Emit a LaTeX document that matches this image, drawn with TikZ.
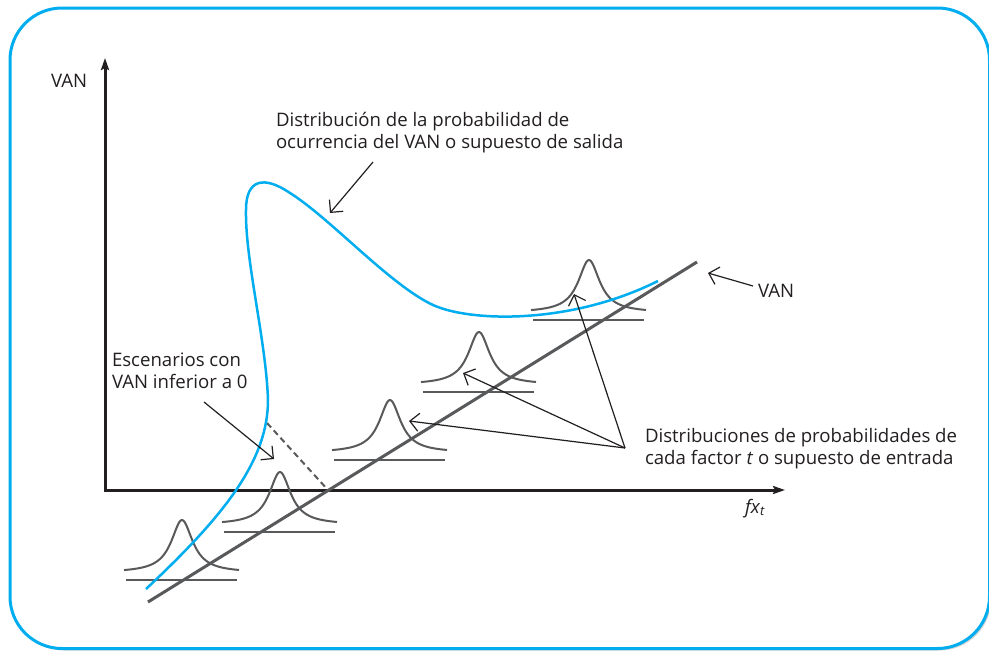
\documentclass[tikz,border=0pt]{standalone}
\usepackage{fontspec}
\setmainfont{Open Sans}
\usetikzlibrary{arrows.meta,shadows}
\definecolor{RiskCyan}{RGB}{0,174,239}
\definecolor{RiskInk}{RGB}{35,31,32}
\definecolor{RiskGray}{RGB}{88,89,91}
\tikzset{
    risk/diagram/.style={
        font=\fontsize{18.6}{21.5}\selectfont,
        text=RiskInk,
        line join=round
    },
    risk/frame/.style={
        draw=RiskCyan, line width=3pt, fill=white, rounded corners=52pt,
        drop shadow={shadow xshift=2pt, shadow yshift=-2pt, opacity=0.35}
    },
    risk/axis/.style={
        draw=RiskInk, line width=3pt, line join=miter,
        {Stealth[length=12pt, width=8pt, inset=2pt]}-{Stealth[length=12pt, width=8pt, inset=2pt]}
    },
    risk/van/.style={draw=RiskGray, line width=3pt},
    risk/bell/.style={draw=RiskGray, line width=2pt},
    risk/base/.style={draw=RiskGray, line width=2.5pt},
    risk/negative/.style={
        draw=RiskGray, line width=2pt, dash pattern=on 6pt off 4pt
    },
    risk/output/.style={draw=RiskCyan, line width=2.5pt},
    risk/pointer/.style={
        draw=RiskInk, line width=1.2pt,
        -{Straight Barb[length=9pt, width=18pt]}
    },
    risk/label/.style={inner sep=0pt, outer sep=0pt, align=left}
}
\begin{document}
\begin{tikzpicture}[risk/diagram, x=1pt, y=-1pt]
    \useasboundingbox (0,0) rectangle (989,651);
    \path[risk/frame] (10,8) rectangle (989.5,648.5);
    % axes
    \coordinate (origin) at (105,490);
    \coordinate (ytop) at (105,58);
    \coordinate (xend) at (785,490);
    \draw[risk/axis] (ytop) -- (origin) -- (xend);
    % input distributions
    \foreach \cx/\ty in {182/570,280/522,390/450,479/382,589/310} {
        \draw[risk/bell] plot[domain=-58:57, samples=80, smooth]
            ({\cx+\x}, {\ty+2.56-52.6/(1+(\x/13)^2)});
        \draw[risk/base] (\cx-56,\ty+10) -- (\cx+55,\ty+10);
    }
    % VAN line
    \coordinate (vanlow) at (148,602);
    \coordinate (vanhigh) at (697,262);
    \draw[risk/van] (vanlow) -- (vanhigh);
    \coordinate (negtop) at (267,423);
    \coordinate (negfoot) at (328,490);
    \draw[risk/negative] (negtop) -- (negfoot);
    % output distribution
    \draw[risk/output]
        (146,589) .. controls (225,515) and (268,460) .. (268,400)
        .. controls (266,340) and (245,260) .. (246,210)
        .. controls (246,178) and (265,176) .. (290,193)
        .. controls (330,218) and (390,285) .. (433,305)
        .. controls (470,322) and (570,325) .. (658,281);
    % labels
    \node[risk/label, anchor=base west] (vanaxis) at (51,87) {VAN};
    \node[risk/label, anchor=base west] (fxt) at (745,513)
        {\textit{fx}\textsubscript{\textit{t}}};
    \node[risk/label, anchor=north west] (outlabel) at (276,112.4)
        {Distribución de la probabilidad de\\ocurrencia del VAN o supuesto de salida};
    \node[risk/label, anchor=north west] (scenlabel) at (112,353)
        {Escenarios con\\VAN inferior a 0};
    \node[risk/label, anchor=north west] (inlabel) at (645,428.6)
        {Distribuciones de probabilidades de\\cada factor \textit{t} o supuesto de entrada};
    \node[risk/label, anchor=base west] (vanlabel) at (758,297) {VAN};
    % pointers
    \coordinate (outtail) at (373,162);
    \coordinate (outtip) at (330,213);
    \draw[risk/pointer] (outtail) -- (outtip);
    \coordinate (scentail) at (204,402);
    \coordinate (scentip) at (274,459);
    \draw[risk/pointer] (scentail) -- (scentip);
    \coordinate (vantail) at (753,286);
    \coordinate (vantip) at (708,273);
    \draw[risk/pointer] (vantail) -- (vantip);
    \coordinate (inhub) at (625,448);
    \foreach \tip in {(409,421),(463,373),(574,294)} {
        \draw[risk/pointer] (inhub) -- \tip;
    }
\end{tikzpicture}
\end{document}
